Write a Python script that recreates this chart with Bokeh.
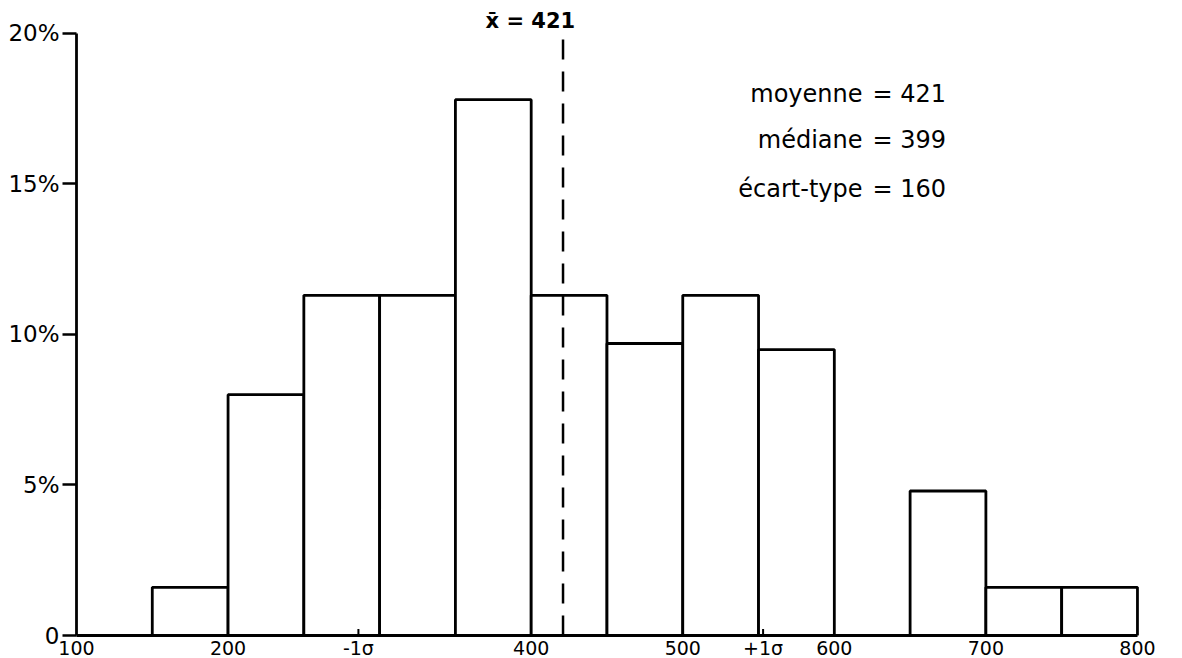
from bokeh.plotting import figure
from bokeh.models import FixedTicker, Range1d
from bokeh.core.properties import value
from bokeh.embed import file_html
from bokeh.resources import INLINE

# ---- data ----
bin_left = [150, 200, 250, 300, 350, 400, 450, 500, 550, 600, 650, 700, 750]
bin_right = [200, 250, 300, 350, 400, 450, 500, 550, 600, 650, 700, 750, 800]
percent = [1.6, 8.0, 11.3, 11.3, 17.8, 11.3, 9.7, 11.3, 9.5, 0.0, 4.8, 1.6, 1.6]

mean_value = 421
median_value = 399
sd_value = 160

x_ticks = [100, 200, 400, 500, 600, 700, 800]
sigma_marks = [286, 553]          # hand-drawn -1σ / +1σ marks on the axis
sigma_labels = ["-1\u03c3", "+1\u03c3"]
y_ticks = [0, 5, 10, 15, 20]
y_labels = ["0", "5%", "10%", "15%", "20%"]

stat_names = ["moyenne", "m\u00e9diane", "\u00e9cart-type"]
stat_values = [mean_value, median_value, sd_value]

FONT = "DejaVu Sans"

# ---- figure ----
p = figure(frame_width=1094, frame_height=627,
           x_range=Range1d(100, 821.8), y_range=Range1d(0, 20.83),
           output_backend="svg", toolbar_location=None,
           min_border_left=76, min_border_right=4,
           min_border_top=8, min_border_bottom=23)
p.outline_line_color = None
p.grid.visible = False
p.background_fill_color = "white"
p.border_fill_color = "white"

# bars
p.quad(left=bin_left, right=bin_right, bottom=0, top=percent,
       fill_color="white", line_color="black", line_width=2.8)

# mean dashed line
p.segment(x0=[mean_value], y0=[0], x1=[mean_value], y1=[y_ticks[-1]],
          line_color="black", line_width=2.5, line_dash="20 12")
p.text(x=[mean_value + 8], y=[20.4], text=["x\u0304 = %d" % mean_value],
       text_font=value(FONT), text_font_style="bold", text_font_size="21px",
       text_align="right", text_baseline="middle", text_color="black")

# sigma marks
p.segment(x0=sigma_marks, y0=[0, 0], x1=sigma_marks, y1=[0.22, 0.22],
          line_color="black", line_width=2)

# statistics block
stat_y = [18.0, 16.45, 14.85]
p.text(x=[618.6] * 3, y=stat_y, text=stat_names,
       text_font=value(FONT), text_font_size="24px",
       text_align="right", text_baseline="middle", text_color="black")
p.text(x=[625.2] * 3, y=stat_y, text=["= %d" % v for v in stat_values],
       text_font=value(FONT), text_font_size="24px",
       text_align="left", text_baseline="middle", text_color="black")

# x axis
xa = p.xaxis[0]
all_x = sorted(x_ticks + sigma_marks)
xa.ticker = FixedTicker(ticks=all_x)
xa.major_label_overrides = {m: l for m, l in zip(sigma_marks, sigma_labels)}
xa.bounds = (100, 800)
xa.axis_line_width = 2.8
xa.axis_line_color = "black"
xa.major_tick_out = 0
xa.major_tick_in = 0
xa.minor_tick_out = 0
xa.minor_tick_in = 0
xa.major_label_standoff = 1
xa.major_label_text_font = FONT
xa.major_label_text_font_size = "19px"
xa.major_label_text_color = "black"

# y axis
ya = p.yaxis[0]
ya.ticker = FixedTicker(ticks=y_ticks)
ya.major_label_overrides = {t: l for t, l in zip(y_ticks, y_labels)}
ya.bounds = (0, 20)
ya.axis_line_width = 2.8
ya.axis_line_color = "black"
ya.major_tick_out = 14
ya.major_tick_in = 0
ya.major_tick_line_width = 2.5
ya.major_tick_line_color = "black"
ya.minor_tick_out = 0
ya.minor_tick_in = 0
ya.major_label_standoff = 3
ya.major_label_text_font = FONT
ya.major_label_text_font_size = "23px"
ya.major_label_text_color = "black"

open("out.html", "w").write(file_html(p, INLINE))
